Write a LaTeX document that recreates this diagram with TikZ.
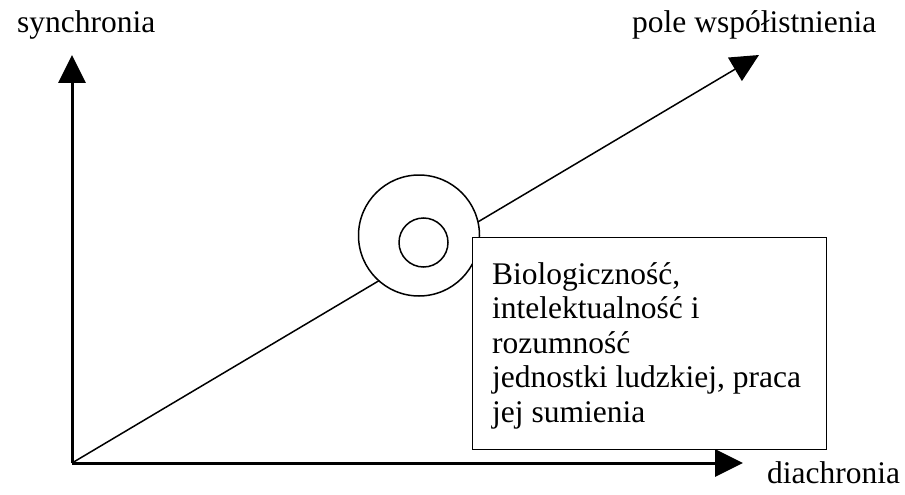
\documentclass[tikz,border=0pt]{standalone}
\usepackage{fontspec}
\setmainfont{Liberation Serif}
\usetikzlibrary{arrows.meta}
\tikzset{
  axis/.style={line width=3pt, -{Triangle[length=28pt,width=27pt]}},
  diag/.style={line width=1.5pt, -{Triangle[length=28pt,width=27pt]}},
  ring/.style={draw, circle, line width=1.5pt, fill=white, inner sep=0pt},
  textbox/.style={draw, line width=1.2pt, fill=white, minimum width=354pt, minimum height=212pt, anchor=north west, inner sep=0pt},
  lbl/.style={font=\fontsize{31.5}{34.5}\selectfont, anchor=base west, inner sep=0pt}
}
\begin{document}
\begin{tikzpicture}[x=1pt,y=-1pt]
\useasboundingbox (0,0) rectangle (905,495);
\coordinate (O) at (72,463);
\coordinate (Y) at (72,55);
\coordinate (X) at (743,463);
\coordinate (D) at (759,55);
\draw[axis] (O) -- (Y);
\draw[axis] (O) -- (X);
\draw[diag] (O) -- (D);
\node[ring, minimum size=121pt] (outer) at (419,235.5) {};
\node[ring, minimum size=49pt] (inner) at (423.5,242.5) {};
\node[textbox] (box) at (472,237) {};
\node[lbl] (boxtext) at (492,284) {\begin{tabular}[t]{@{}l@{}}Biologiczność,\\ intelektualność i\\ rozumność\\ jednostki ludzkiej, praca\\ jej sumienia\end{tabular}};
\node[lbl] (syn) at (17,33) {synchronia};
\node[lbl] (pole) at (632,33) {pole współistnienia};
\node[lbl] (dia) at (767,483) {diachronia};
\end{tikzpicture}
\end{document}
